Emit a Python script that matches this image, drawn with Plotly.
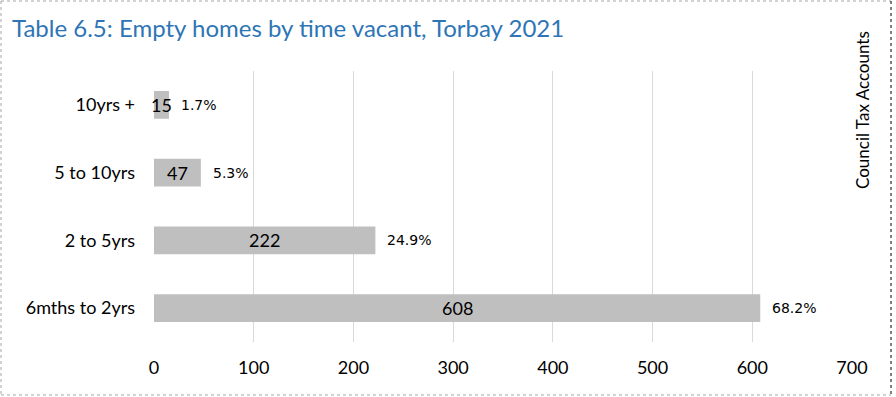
import plotly.graph_objects as go

categories = ["6mths to 2yrs", "2 to 5yrs", "5 to 10yrs", "10yrs +"]
counts = [608, 222, 47, 15]
percents = ["68.2%", "24.9%", "5.3%", "1.7%"]
x_ticks = [0, 100, 200, 300, 400, 500, 600, 700]

W, H = 896, 397
L, R, T, B = 154, 44, 71, 55
PW, PH = W - L - R, H - T - B

def px(x):
    return (x - L) / PW

def py(y):
    return (H - B - y) / PH

fig = go.Figure()
fig.add_trace(go.Bar(
    y=categories, x=counts, orientation="h",
    marker=dict(color="#BFBFBF", line=dict(width=0)),
    width=0.41, hoverinfo="skip",
))

ann = []
for c, v, p in zip(categories, counts, percents):
    ann.append(dict(x=v / 2, y=c, xref="x", yref="y", text=str(v), showarrow=False,
                    font=dict(size=18, color="#000000", family="Lato"), xanchor="center"))
    ann.append(dict(x=v, y=c, xref="x", yref="y", text=p, showarrow=False, xshift=10,
                    font=dict(size=14, color="#000000", family="DejaVu Sans"), xanchor="left"))

ann.append(dict(x=px(10), y=py(28), xref="paper", yref="paper",
                text="Table 6.5: Empty homes by time vacant, Torbay 2021",
                showarrow=False, xanchor="left", yanchor="middle",
                font=dict(size=24, color="#2E75B6", family="Lato")))
ann.append(dict(x=px(862), y=py(110), xref="paper", yref="paper",
                text="Council Tax Accounts", textangle=-90, showarrow=False,
                xanchor="center", yanchor="middle",
                font=dict(size=17, color="#000000", family="Lato")))

shapes = [
    # cover the top part of the 700 gridline behind the rotated label
    dict(type="rect", xref="paper", yref="paper", x0=px(848), x1=px(856), y0=py(60), y1=py(199),
         fillcolor="white", line=dict(width=0), layer="above"),
    # dotted border
    dict(type="line", xref="paper", yref="paper", x0=px(1), x1=px(891), y0=py(1), y1=py(1),
         line=dict(color="#A6A6A6", width=1, dash="dot")),
    dict(type="line", xref="paper", yref="paper", x0=px(1), x1=px(891), y0=py(395), y1=py(395),
         line=dict(color="#A6A6A6", width=1, dash="dot")),
    dict(type="line", xref="paper", yref="paper", x0=px(1), x1=px(1), y0=py(1), y1=py(395),
         line=dict(color="#A6A6A6", width=1, dash="dot")),
    dict(type="line", xref="paper", yref="paper", x0=px(891), x1=px(891), y0=py(1), y1=py(395),
         line=dict(color="#000000", width=1, dash="dot")),
]

fig.update_layout(
    width=W, height=H,
    margin=dict(l=L, r=R, t=T, b=B),
    paper_bgcolor="white", plot_bgcolor="white",
    showlegend=False,
    annotations=ann, shapes=shapes,
    xaxis=dict(range=[0, 700], tickvals=x_ticks, ticktext=[str(t) for t in x_ticks],
               showgrid=True, gridcolor="#D9D9D9", gridwidth=1, zeroline=False,
               showline=False, ticks="", ticklabelstandoff=13,
               tickfont=dict(size=18, color="#000000", family="Lato"), fixedrange=True),
    yaxis=dict(categoryorder="array", categoryarray=categories, showgrid=False,
               zeroline=False, showline=False, ticks="", ticklabelstandoff=18,
               tickfont=dict(size=18, color="#000000", family="Lato"), fixedrange=True),
)

fig.write_html("out.html", post_script="document.body.style.margin='0';",
               config={"displayModeBar": False})
